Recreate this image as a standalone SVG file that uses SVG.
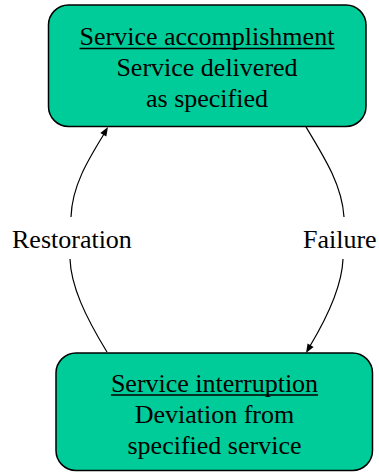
<svg xmlns="http://www.w3.org/2000/svg" width="379" height="472" viewBox="0 0 379 472">
  <g id="connectors" fill="none" stroke="#000" stroke-width="1.2">
    <path d="M107,352 C85,316 71,286 70,259"/>
    <path d="M71,217 C72,186 88,160 104,134"/>
    <path d="M108,127 L106.3,136.5 L100.3,132.9 Z" fill="#000" stroke="none"/>
    <path d="M306,127 C326,160 342,186 344,217"/>
    <path d="M343,259 C342,286 328,316 310,346"/>
    <path d="M306,353 L313.6,347.1 L307.6,343.5 Z" fill="#000" stroke="none"/>
  </g>
  <g id="labels">
    <text x="12" y="248" style="font-family: 'Liberation Serif'; font-size: 26px">Restoration</text>
    <text x="303" y="248" style="font-family: 'Liberation Serif'; font-size: 26px">Failure</text>
  </g>
  <g id="accomplishment">
    <rect x="48.5" y="5" width="317.5" height="121.5" rx="20" ry="20" fill="#00CC99" stroke="#000" stroke-width="1.5"/>
    <text x="79.5" y="45" style="font-family: 'Liberation Serif'; font-size: 26px">Service accomplishment</text>
    <line x1="79.5" y1="48.5" x2="334.5" y2="48.5" stroke="#000" stroke-width="1.3"/>
    <text x="116.4" y="76" style="font-family: 'Liberation Serif'; font-size: 26px">Service delivered</text>
    <text x="146" y="107" style="font-family: 'Liberation Serif'; font-size: 26px">as specified</text>
  </g>
  <g id="interruption">
    <rect x="56" y="353" width="316.5" height="117.5" rx="20" ry="20" fill="#00CC99" stroke="#000" stroke-width="1.5"/>
    <text x="110.9" y="391.5" style="font-family: 'Liberation Serif'; font-size: 26px">Service interruption</text>
    <line x1="110.9" y1="395" x2="318.1" y2="395" stroke="#000" stroke-width="1.3"/>
    <text x="134.7" y="423" style="font-family: 'Liberation Serif'; font-size: 26px">Deviation from</text>
    <text x="127.5" y="454" style="font-family: 'Liberation Serif'; font-size: 26px">specified service</text>
  </g>
</svg>
